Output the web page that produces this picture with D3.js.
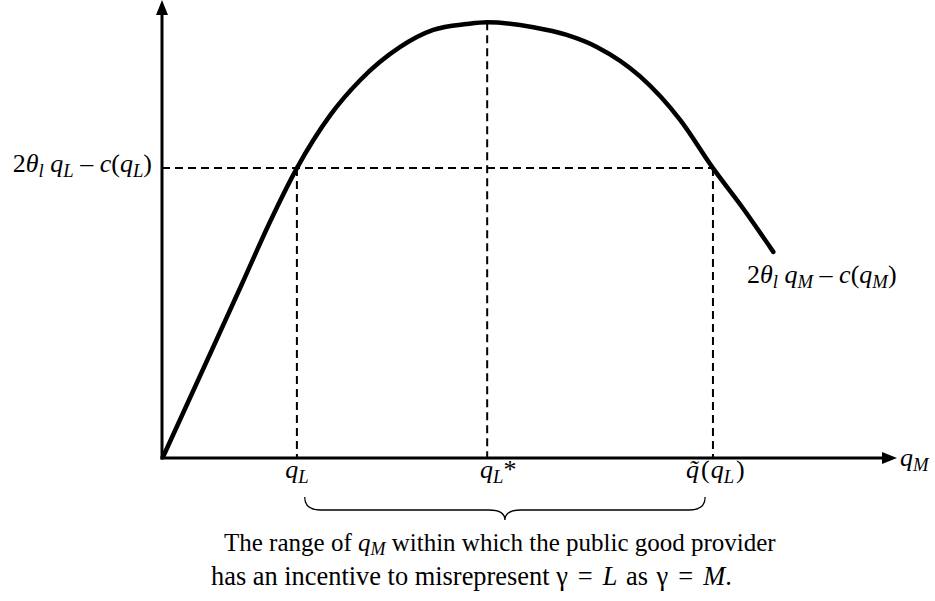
<!DOCTYPE html>
<html><head><meta charset="utf-8">
<script src="https://cdn.jsdelivr.net/npm/d3@7"></script>
<style>body{margin:0;background:#fff}svg{display:block}text{font-family:"Liberation Serif","Times New Roman",serif;fill:#000}</style>
</head><body>
<script>
// curve values (abstract units)
const curveX = [0.14, 5.35, 11.4, 15.2, 19.0, 23.7, 27.9, 33.5, 38.2, 42.9, 45.8, 52.3, 57.0, 61.3, 67.3, 73.0, 77.6, 81.8, 86.1];
const curveY = [0.22, 18.1, 38.9, 52.1, 64.0, 75.7, 83.4, 90.7, 94.5, 95.8, 96.2, 95.1, 93.4, 90.7, 84.3, 74.6, 64.0, 55.2, 45.5];
const qL = 19.0, qStar = 45.8, qTilde = 77.6, level = 64.0, peak = 96.2;
const rangeStart = 20.1, rangeEnd = 76.5;

const W = 935, H = 601;
const svg = d3.select("body").append("svg").attr("width", W).attr("height", H);
const x = d3.scaleLinear().domain([0, 100]).range([162, 872]);
const y = d3.scaleLinear().domain([0, 100]).range([458, 5]);

// dashed guides
const g = svg.append("g").attr("stroke", "#000").attr("stroke-width", 2).attr("stroke-dasharray", "8,5").attr("fill", "none");
g.append("line").attr("x1", x(0)).attr("x2", x(qTilde)).attr("y1", y(level)).attr("y2", y(level));
g.append("line").attr("x1", x(qL)).attr("x2", x(qL)).attr("y1", y(level)).attr("y2", y(0));
g.append("line").attr("x1", x(qStar)).attr("x2", x(qStar)).attr("y1", y(peak)).attr("y2", y(0));
g.append("line").attr("x1", x(qTilde)).attr("x2", x(qTilde)).attr("y1", y(level)).attr("y2", y(0));

// axes
const tipX = 897;
svg.append("line").attr("x1", x(0)).attr("x2", x(0)).attr("y1", y(0) + 1.5).attr("y2", 12).attr("stroke", "#000").attr("stroke-width", 3);
svg.append("path").attr("d", `M${x(0)-6},15 L${x(0)},0 L${x(0)+6},15 Z`).attr("fill", "#000");
svg.append("line").attr("x1", x(0) - 1.5).attr("x2", tipX - 10).attr("y1", y(0)).attr("y2", y(0)).attr("stroke", "#000").attr("stroke-width", 3);
svg.append("path").attr("d", `M${tipX-15},${y(0)-6} L${tipX},${y(0)} L${tipX-15},${y(0)+6} Z`).attr("fill", "#000");

// curve
const pts = curveX.map((d, i) => [d, curveY[i]]);
svg.append("path").datum(pts)
  .attr("d", d3.line().x(d => x(d[0])).y(d => y(d[1])).curve(d3.curveMonotoneX))
  .attr("fill", "none").attr("stroke", "#000").attr("stroke-width", 4.5).attr("stroke-linecap", "round");

// helper for formula text
function formula(parent, px, py, parts, anchor, size, subScale, subDrop) {
  const ss = subScale || 0.72;
  const sd = subDrop || 0.2;
  const t = parent.append("text").attr("x", px).attr("y", py).attr("font-size", size).attr("text-anchor", anchor || "start");
  parts.forEach(p => {
    const s = t.append("tspan").text(p.t);
    if (p.i) s.attr("font-style", "italic");
    if (p.sub) s.attr("font-size", size * ss).attr("dy", size * sd);
    if (p.up) s.attr("dy", -size * sd);
    if (p.dx) s.attr("dx", p.dx);
  });
  return t;
}
const fs = 26;
const leftLabel = [{t:"2"},{t:"θ",i:1},{t:"l",i:1,sub:1},{t:" q",i:1,up:1},{t:"L",i:1,sub:1},{t:" – ",up:1},{t:"c",i:1},{t:"(",},{t:"q",i:1},{t:"L",i:1,sub:1},{t:")",up:1}];
formula(svg, 152, 172, leftLabel, "end", fs);
const rightLabel = [{t:"2"},{t:"θ",i:1},{t:"l",i:1,sub:1},{t:" q",i:1,up:1},{t:"M",i:1,sub:1},{t:" – ",up:1},{t:"c",i:1},{t:"("},{t:"q",i:1},{t:"M",i:1,sub:1},{t:")",up:1}];
formula(svg, 747, 283, rightLabel, "start", fs);

// axis labels
formula(svg, 900, 466, [{t:"q",i:1},{t:"M",i:1,sub:1}], "start", fs);
formula(svg, x(qL), 478, [{t:"q",i:1},{t:"L",i:1,sub:1}], "middle", fs);
formula(svg, 480, 478, [{t:"q",i:1},{t:"L",i:1,sub:1},{t:"*",up:1}], "start", fs);
formula(svg, 686, 478, [{t:"q̃",i:1},{t:"(",dx:2},{t:"q",i:1,dx:1},{t:"L",i:1,sub:1},{t:")",up:1,dx:2}], "start", fs);

// brace
const bx0 = x(rangeStart), bx1 = x(rangeEnd), bm = (bx0 + bx1) / 2;
const by0 = y(0) + 39, by1 = by0 + 13, by2 = by1 + 10;
svg.append("path")
  .attr("d", `M${bx0},${by0} Q${bx0},${by1} ${bx0+16},${by1} L${bm-16},${by1} Q${bm},${by1} ${bm},${by2} Q${bm},${by1} ${bm+16},${by1} L${bx1-16},${by1} Q${bx1},${by1} ${bx1},${by0}`)
  .attr("fill", "none").attr("stroke", "#000").attr("stroke-width", 1.3);

// caption
formula(svg, 224, 551, [{t:"The range of "},{t:"q",i:1},{t:"M",i:1,sub:1},{t:" within which the public good provider",up:1}], "start", 25, 0.72, 0.14);
formula(svg, 211, 585, [{t:"has an incentive to misrepresent "},{t:"γ"},{t:"=",dx:10},{t:"L",i:1,dx:10},{t:" as ",dx:2},{t:"γ",dx:2},{t:"=",dx:10},{t:"M",i:1,dx:10},{t:"."}], "start", 26.4);
</script>
</body></html>
